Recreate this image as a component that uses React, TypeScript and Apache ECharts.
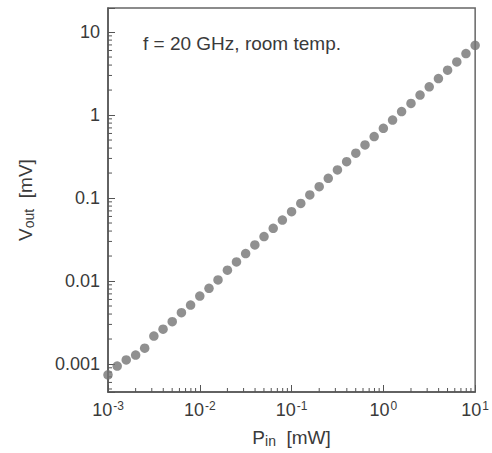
import React, { useEffect, useRef } from "react";
import * as echarts from "echarts";

// P_in [mW]
const pinValues = [
  0.001, 0.00126, 0.00158, 0.002, 0.00251, 0.00316, 0.00398, 0.00501, 0.00631, 0.00794,
  0.01, 0.0126, 0.0158, 0.02, 0.0251, 0.0316, 0.0398, 0.0501, 0.0631, 0.0794,
  0.1, 0.126, 0.158, 0.2, 0.251, 0.316, 0.398, 0.501, 0.631, 0.794,
  1, 1.26, 1.58, 2, 2.51, 3.16, 3.98, 5.01, 6.31, 7.94, 10,
];
// V_out [mV]
const voutValues = [
  0.00074, 0.000946, 0.00112, 0.00128, 0.00155, 0.00217, 0.00263, 0.00324, 0.00415, 0.00514,
  0.00659, 0.00817, 0.0103, 0.0135, 0.017, 0.0214, 0.0272, 0.0343, 0.0432, 0.0543,
  0.0684, 0.0861, 0.109, 0.137, 0.173, 0.218, 0.274, 0.347, 0.437, 0.55,
  0.692, 0.871, 1.1, 1.38, 1.74, 2.19, 2.75, 3.47, 4.37, 5.5, 6.92,
];

const xRange = [0.001, 10];
const yRange = [0.00046, 19.5];
const xDecades = [0.001, 0.01, 0.1, 1];
const yDecades = [0.0001, 0.001, 0.01, 0.1, 1, 10];
const minorMultipliers = [2, 3, 4, 5, 6, 7, 8, 9];
const xExponentLabels = ["-3", "-2", "-1", "0", "1"];
const yTickLabels = ["0.001", "0.01", "0.1", "1", "10"];
const annotation = "f = 20 GHz, room temp.";

const FONT = '"Liberation Sans", Arial, Helvetica, sans-serif';
const INK = "#3a3a3a";
const AXIS = "#555";

function exponentOf(v: number): number | null {
  const e = Math.log10(v);
  const r = Math.round(e);
  return Math.abs(e - r) < 1e-6 ? r : null;
}

export default function App() {
  const ref = useRef<HTMLDivElement>(null);

  useEffect(() => {
    if (!ref.current) return;
    const chart = echarts.init(ref.current, undefined, { renderer: "svg" });

    const minorData: number[][] = [];
    xDecades.forEach((d) =>
      minorMultipliers.forEach((m) => {
        const v = d * m;
        if (v > xRange[0] && v < xRange[1]) minorData.push([v, yRange[0], 0]);
      })
    );
    yDecades.forEach((d) =>
      minorMultipliers.forEach((m) => {
        const v = d * m;
        if (v > yRange[0] && v < yRange[1]) minorData.push([xRange[0], v, 1]);
      })
    );

    chart.setOption({
      animation: false,
      grid: {
        left: 108,
        right: 16,
        top: 8,
        bottom: 61,
        show: true,
        borderColor: "#666",
        borderWidth: 1.5,
        backgroundColor: "transparent",
      },
      xAxis: {
        type: "log",
        logBase: 10,
        min: xRange[0],
        max: xRange[1],
        name: "{a|P}{s|in}{a|  [mW]}",
        nameLocation: "middle",
        nameGap: 34,
        nameTextStyle: {
          rich: {
            a: { fontFamily: FONT, fontSize: 19, color: INK, lineHeight: 22 },
            s: { fontFamily: FONT, fontSize: 14, color: INK, padding: [8, 0, 0, 0] },
          },
        },
        axisLine: { show: true, lineStyle: { color: AXIS, width: 1.5 } },
        axisTick: { show: true, inside: true, length: 7, lineStyle: { color: AXIS, width: 1 } },
        splitLine: { show: false },
        axisLabel: {
          margin: 8,
          formatter: (v: number) => {
            const r = exponentOf(v);
            if (r === null) return "";
            return `{b|10}{s|${xExponentLabels[r + 3]}}`;
          },
          rich: {
            b: { fontFamily: FONT, fontSize: 18, color: INK, lineHeight: 20 },
            s: { fontFamily: FONT, fontSize: 12, color: INK, verticalAlign: "top", padding: [0, 0, 6, 1] },
          },
        },
      },
      yAxis: {
        type: "log",
        logBase: 10,
        min: yRange[0],
        max: yRange[1],
        name: "{a|V}{s|out}{a|  [mV]}",
        nameLocation: "middle",
        nameGap: 72,
        nameRotate: 90,
        nameTextStyle: {
          rich: {
            a: { fontFamily: FONT, fontSize: 19, color: INK, lineHeight: 22 },
            s: { fontFamily: FONT, fontSize: 14, color: INK, padding: [8, 0, 0, 0] },
          },
        },
        axisLine: { show: true, lineStyle: { color: AXIS, width: 1.5 } },
        axisTick: { show: true, inside: true, length: 7, lineStyle: { color: AXIS, width: 1 } },
        splitLine: { show: false },
        axisLabel: {
          margin: 8,
          fontFamily: FONT,
          fontSize: 18,
          color: INK,
          formatter: (v: number) => {
            const r = exponentOf(v);
            if (r === null) return "";
            return yTickLabels[r + 3] ?? "";
          },
        },
      },
      graphic: [
        {
          type: "text",
          left: 143,
          top: 34,
          style: { text: annotation, font: `19px ${FONT}`, fill: INK },
        },
      ],
      series: [
        {
          type: "custom",
          coordinateSystem: "cartesian2d",
          silent: true,
          clip: false,
          data: minorData,
          renderItem: (_params: any, api: any) => {
            const kind = api.value(2);
            const p = api.coord([api.value(0), api.value(1)]);
            if (kind === 0) {
              return {
                type: "line",
                shape: { x1: p[0], y1: p[1], x2: p[0], y2: p[1] - 4 },
                style: { stroke: AXIS, lineWidth: 1 },
              };
            }
            return {
              type: "line",
              shape: { x1: p[0], y1: p[1], x2: p[0] + 4, y2: p[1] },
              style: { stroke: AXIS, lineWidth: 1 },
            };
          },
          z: 3,
        },
        {
          type: "scatter",
          data: pinValues.map((x, i) => [x, voutValues[i]]),
          symbol: "circle",
          symbolSize: 9.5,
          itemStyle: { color: "#747474" },
          z: 4,
        },
      ],
    });

    return () => chart.dispose();
  }, []);

  return (
    <div
      ref={ref}
      style={{ position: "absolute", left: 0, top: 0, width: 492, height: 453 }}
    />
  );
}
